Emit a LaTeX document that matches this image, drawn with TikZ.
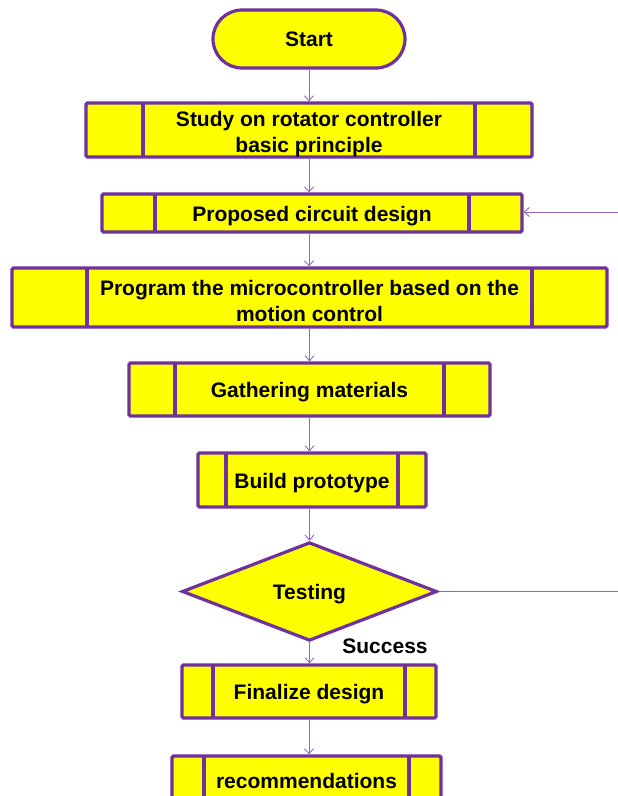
\documentclass[tikz,border=0pt]{standalone}
\usepackage{fontspec}
\setmainfont{Liberation Sans}
\usetikzlibrary{shapes.geometric,arrows.meta,positioning}

\definecolor{bordc}{RGB}{112,48,160}
\definecolor{linec}{RGB}{150,100,200}
\definecolor{boxfill}{RGB}{255,255,0}

\newcommand{\lowline}{\rule{0pt}{23pt}}

\begin{document}
\begin{tikzpicture}[x=1pt,y=-1pt]
		\tikzset{box/.style={draw=bordc, fill=boxfill, line width=3.2pt, rounded corners=1.5pt, inner sep=0pt,
				align=center, font=\fontsize{21}{26}\selectfont\bfseries}};
		\tikzset{lowtext/.style={execute at begin node={\rule{0pt}{21pt}}}};
		\tikzset{proc/.style={box, lowtext, path picture={
				\draw[bordc, line width=3.2pt] ([xshift=#1]path picture bounding box.north west) -- ([xshift=#1]path picture bounding box.south west)
				([xshift=-#1]path picture bounding box.north east) -- ([xshift=-#1]path picture bounding box.south east);}}};
		\tikzset{conn/.style={linec, line width=0.9pt}};
		\tikzset{arr/.style={conn, -{Straight Barb[length=5pt,width=9pt]}}};

		\useasboundingbox (0,0) rectangle (618,796);
		\clip (0,0) rectangle (618,796);

		\node[box, rounded corners=29pt, minimum width=192pt, minimum height=58pt] (start) at (309,39) {Start};
		\node[proc=57pt, minimum width=446pt, minimum height=54pt] (study) at (309,130) {\lowline Study on rotator controller\\basic principle};
		\node[proc=53pt, minimum width=420pt, minimum height=38pt] (design) at (312,213) {Proposed circuit design};
		\node[proc=75pt, minimum width=595pt, minimum height=59pt] (prog) at (309.5,297.5) {\lowline Program the microcontroller based on the\\motion control};
		\node[proc=46pt, minimum width=361pt, minimum height=53pt] (gather) at (309.5,389.5) {Gathering materials};
		\node[proc=28pt, minimum width=228pt, minimum height=54pt] (build) at (312,480) {Build prototype};
		\node[box, lowtext, diamond, rounded corners=0pt, minimum width=255pt, minimum height=93pt] (test) at (309.5,591.5) {Testing};
		\node[proc=31pt, minimum width=254pt, minimum height=53pt] (final) at (309,691.5) {Finalize design};
		\node[proc=32pt, minimum width=269pt, minimum height=44pt] (recom) at (306.5,778) {recommendations};

		\node[font=\fontsize{21}{26}\selectfont\bfseries] (succ) at (385,646) {Success};

		\coordinate (fbin) at (618,212);
		\coordinate (fbout) at (618,591.5);

		\draw[arr] (start.south) -- (start.south |- study.north);
		\draw[arr] (study.south) -- (study.south |- design.north);
		\draw[arr] (study.south |- design.south) -- (study.south |- prog.north);
		\draw[arr] (prog.south) -- (prog.south |- gather.north);
		\draw[arr] (gather.south) -- (gather.south |- build.north);
		\draw[arr] (gather.south |- build.south) -- (test.north);
		\draw[arr] (test.south) -- (test.south |- final.north);
		\draw[arr] (final.south) -- (final.south |- recom.north);
		\draw[arr] (fbin) -- (fbin -| design.east);
		\draw[conn] (test.east) -- (fbout);
\end{tikzpicture}
\end{document}
